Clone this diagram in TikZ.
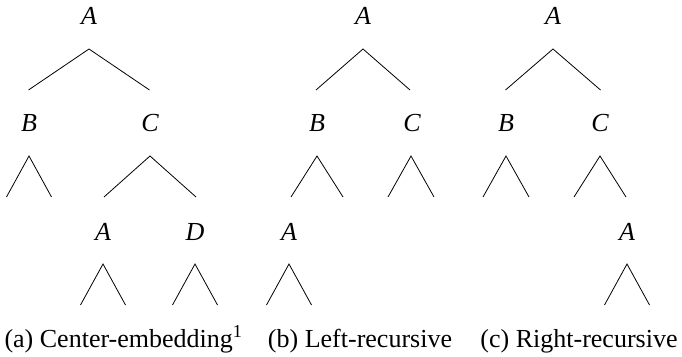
\documentclass[tikz,border=0pt]{standalone}
\usepackage{fontspec}
\setmainfont{Liberation Serif}
\newfontfamily\treefont{Liberation Serif}
\begin{document}
\begin{tikzpicture}[x=1pt,y=1pt,
  every node/.style={font=\treefont\fontsize{26}{30}\selectfont},
  cat/.style={inner sep=0pt, font=\treefont\fontsize{26}{30}\selectfont\itshape},
  caption/.style={inner sep=0pt, anchor=base},
  treeline/.style={line width=0.8pt, line join=miter},
  pics/roof/.style={code={\draw[treeline] (-#1,-41) -- (0,0) -- (#1,-41);}}]
\useasboundingbox (0,0) rectangle (682,356);

% (a) centre-embedding
\node[cat] (aA)  at (89,340)  {A};
\node[cat] (aB)  at (29,233)  {B};
\node[cat] (aC)  at (150,233) {C};
\node[cat] (aA2) at (103,124) {A};
\node[cat] (aD)  at (195,124) {D};
\pic at (89,307)  {roof=60.5};
\pic at (29,200)  {roof=22.5};
\pic at (150,200) {roof=46};
\pic at (103,92)  {roof=22.5};
\pic at (195,92)  {roof=22.5};

% (b) left-recursive
\node[cat] (bA)  at (363,340) {A};
\node[cat] (bB)  at (317,233) {B};
\node[cat] (bC)  at (412,233) {C};
\node[cat] (bA2) at (289,124) {A};
\pic at (363,307) {roof=47};
\pic at (317,200) {roof=26};
\pic at (411,200) {roof=23};
\pic at (289,92)  {roof=22.5};

% (c) right-recursive
\node[cat] (cA)  at (553,340) {A};
\node[cat] (cB)  at (506,233) {B};
\node[cat] (cC)  at (600,233) {C};
\node[cat] (cA2) at (627,124) {A};
\pic at (553,307) {roof=47.5};
\pic at (506,200) {roof=23};
\pic at (600,200) {roof=26};
\pic at (627,92)  {roof=22.5};

% captions
\node[caption] (capa) at (123.5,9) {(a) Center-embedding\textsuperscript{1}};
\node[caption] (capb) at (360,9) {(b) Left-recursive};
\node[caption] (capc) at (579,9) {(c) Right-recursive};
\end{tikzpicture}
\end{document}
